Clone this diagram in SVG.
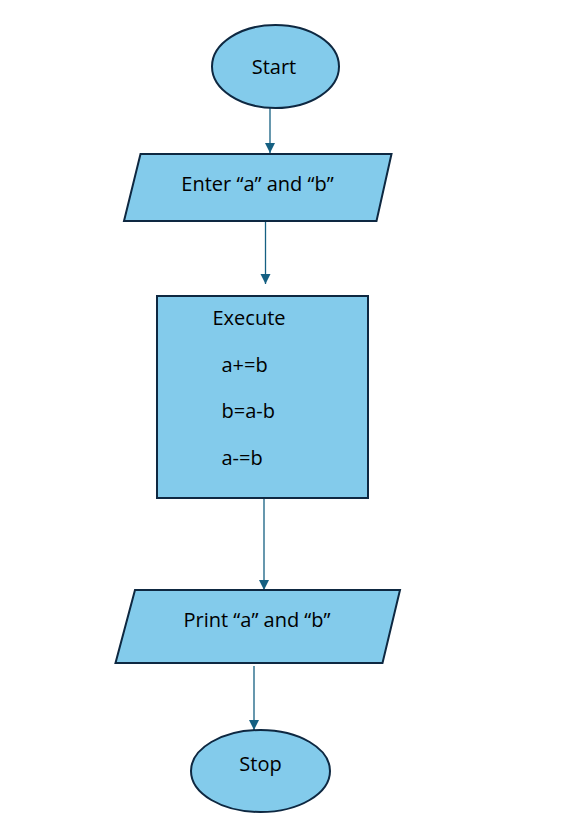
<svg xmlns="http://www.w3.org/2000/svg" width="581" height="819" viewBox="0 0 581 819">
<style>
.shape{fill:#83CBEB;stroke:#0E2841;stroke-width:2}
.lbl{font-family:"Open Sans","Liberation Sans",sans-serif;font-size:20px;fill:#000}
.conn{stroke:#156082;stroke-width:1.3;fill:none;marker-end:url(#arr)}
</style>
<defs>
<marker id="arr" markerUnits="userSpaceOnUse" markerWidth="12" markerHeight="12" refX="10" refY="5" orient="auto">
<path d="M0,0 L10,5 L0,10 Z" fill="#156082"/>
</marker>
</defs>
<rect width="581" height="819" fill="#fff"/>
<g id="connectors">
<line class="conn" x1="270" y1="108" x2="270" y2="153"/>
<line class="conn" x1="265.5" y1="222" x2="265.5" y2="284"/>
<line class="conn" x1="264" y1="498" x2="264" y2="590"/>
<line class="conn" x1="254" y1="666" x2="254" y2="730"/>
</g>
<g id="start">
<ellipse class="shape" cx="275.5" cy="66.5" rx="63.5" ry="41.5"/>
<text class="lbl" x="274" y="74" text-anchor="middle">Start</text>
</g>
<g id="enter">
<polygon class="shape" points="140.5,154 391.5,154 376.5,221 124,221"/>
<text class="lbl" x="257.5" y="191" text-anchor="middle">Enter “a” and “b”</text>
</g>
<g id="execute">
<rect class="shape" x="157" y="296" width="211" height="202"/>
<text class="lbl" x="212.5" y="325">Execute</text>
<text class="lbl" x="221.5" y="372">a+=b</text>
<text class="lbl" x="221.5" y="418">b=a-b</text>
<text class="lbl" x="221.5" y="465">a-=b</text>
</g>
<g id="print">
<polygon class="shape" points="135,590 400,590 382.5,663 115.5,663"/>
<text class="lbl" x="257" y="627" text-anchor="middle">Print “a” and “b”</text>
</g>
<g id="stop">
<ellipse class="shape" cx="260.5" cy="771" rx="69.5" ry="41"/>
<text class="lbl" x="260.5" y="771" text-anchor="middle">Stop</text>
</g>
</svg>
